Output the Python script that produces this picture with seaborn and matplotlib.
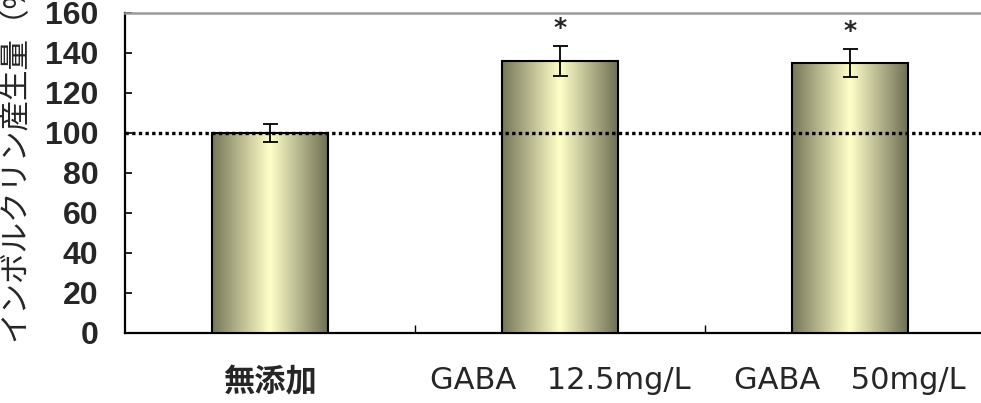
import numpy as np
import pandas as pd
import matplotlib
matplotlib.use("Agg")
import matplotlib.pyplot as plt
from matplotlib.colors import LinearSegmentedColormap
import seaborn as sns

categories = ["無添加", "GABA\u300012.5mg/L", "GABA\u300050mg/L"]
values = [100, 136, 135]
errors = [4.5, 7.5, 7.0]
significant = [False, True, True]
y_ticks = [0, 20, 40, 60, 80, 100, 120, 140, 160]
baseline = 100

sns.set_theme(style="white")
plt.rcParams["font.family"] = ["Noto Sans CJK JP", "DejaVu Sans"]

df = pd.DataFrame({"group": categories, "value": values})

fig = plt.figure(figsize=(9.81, 4.03), dpi=100)
W, H = 981, 403
ax = fig.add_axes([125 / W, 70 / H, 870 / W, 320 / H])

sns.barplot(data=df, x="group", y="value", ax=ax, color="#e8e8b0",
            width=0.4, errorbar=None, edgecolor="black", linewidth=1.5,
            zorder=3)

# horizontal olive-to-cream gradient inside each bar
cmap = LinearSegmentedColormap.from_list(
    "olive", [(0.0, "#76765a"), (0.5, "#ffffc8"), (1.0, "#6f6f55")])
grad = np.linspace(0, 1, 256).reshape(1, -1)
for p in ax.patches:
    x0, y0 = p.get_x(), p.get_y()
    w, h = p.get_width(), p.get_height()
    im = ax.imshow(grad, cmap=cmap, aspect="auto",
                   extent=(x0, x0 + w, y0, y0 + h), zorder=3.5)
    im.set_clip_path(p)
    p.set_facecolor("none")
    p.set_zorder(4)

ax.errorbar(range(len(values)), values, yerr=errors, fmt="none",
            ecolor="black", elinewidth=1.3, capsize=5.4, capthick=1.3,
            zorder=5)

for i, (v, e, s) in enumerate(zip(values, errors, significant)):
    if s:
        ax.text(i, v + e + 9, "*", ha="center", va="center",
                fontsize=18, fontweight="bold", family="DejaVu Sans",
                zorder=6)

ax.axhline(baseline, color="black", lw=2.4, ls=(0, (1, 1)),
           dash_capstyle="butt", zorder=6)

ax.set_xlim(-0.5, 2.5)
ax.set_ylim(0, 160)
ax.set_yticks(y_ticks)
ax.set_yticklabels([str(t) for t in y_ticks], fontsize=23,
                   fontweight="bold", family="Liberation Sans")
ax.tick_params(axis="y", direction="in", length=5, width=1.2,
               color="black", pad=19, left=True)
ax.set_xticks(range(len(categories)))
ax.set_xticklabels(categories, fontsize=22,
                   family=["DejaVu Sans", "Noto Sans CJK JP"])
first = ax.get_xticklabels()[0]
first.set_fontweight("bold")
first.set_family("Noto Sans CJK JP")
first.set_fontsize(22.5)
ax.set_xticks([0.5, 1.5], minor=True)
ax.tick_params(axis="x", which="major", length=0, pad=24)
ax.tick_params(axis="x", which="minor", direction="in", length=6,
               width=1.0, color="black", bottom=True)
ax.set_xlabel("")
ax.set_ylabel("インボルクリン産生量（%）", fontsize=22)
ax.yaxis.set_label_coords(-0.109, 0.59)

for side in ["left", "bottom"]:
    ax.spines[side].set_color("black")
    ax.spines[side].set_linewidth(1.6)
ax.spines["top"].set_color("#999999")
ax.spines["top"].set_linewidth(1.8)
ax.spines["right"].set_visible(False)
ax.grid(False)

fig.savefig("out.png", dpi=100)
